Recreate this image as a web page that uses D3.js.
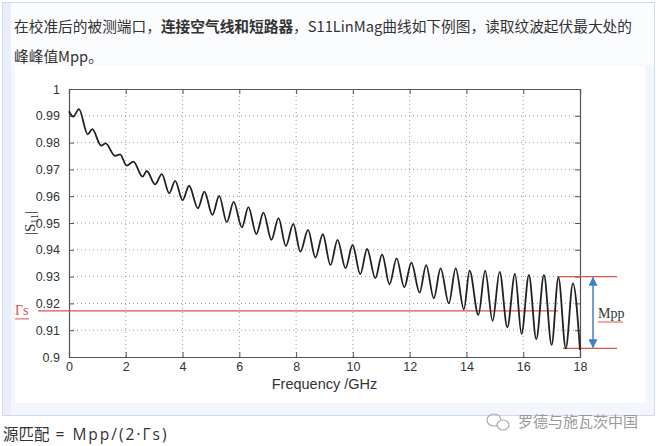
<!DOCTYPE html>
<html><head><meta charset="utf-8">
<script src="https://cdn.jsdelivr.net/npm/d3@7"></script>
<style>
html,body{margin:0;padding:0;background:#fff;}
svg{display:block;}
</style></head>
<body>
<svg id="c" width="659" height="446"></svg>
<script>
// ---- data ----
const freqGHz = [0,0.15,0.35,0.66,0.82,1.13,1.29,1.62,1.80,2.03,2.27,2.59,2.74,3.03,3.27,3.53,3.74,4.00,4.23,4.54,4.77,5.05,5.29,5.56,5.80,6.09,6.32,6.60,6.85,7.13,7.38,7.64,7.90,8.15,8.42,8.68,8.94,9.21,9.46,9.74,9.99,10.26,10.50,10.79,11.03,11.29,11.54,11.81,12.06,12.35,12.58,12.85,13.09,13.38,13.62,13.91,14.11,14.42,14.66,14.92,15.17,15.44,15.71,15.94,16.20,16.46,16.73,17.00,17.24,17.50,17.75,18.00];
const s11Mag = [0.9917,0.9897,0.9925,0.9831,0.9850,0.9789,0.9797,0.9751,0.9756,0.9714,0.9729,0.9673,0.9694,0.9644,0.9682,0.9611,0.9657,0.9585,0.9639,0.9555,0.9617,0.9530,0.9601,0.9503,0.9579,0.9484,0.9559,0.9459,0.9539,0.9437,0.9518,0.9414,0.9497,0.9393,0.9474,0.9371,0.9458,0.9343,0.9437,0.9331,0.9418,0.9309,0.9403,0.9294,0.9383,0.9271,0.9368,0.9260,0.9352,0.9240,0.9343,0.9219,0.9331,0.9200,0.9331,0.9178,0.9322,0.9157,0.9322,0.9135,0.9318,0.9111,0.9310,0.9086,0.9306,0.9066,0.9306,0.9045,0.9297,0.9032,0.9275,0.9026];
const xTicks = [0,2,4,6,8,10,12,14,16,18];
const yTicks = [0.9,0.91,0.92,0.93,0.94,0.95,0.96,0.97,0.98,0.99,1];
const gammaS = 0.9172;
const mppTop = 0.930;
const mppBottom = 0.9032;
const introLine1 = ["在校准后的被测端口，", "连接空气线和短路器", "，S11LinMag曲线如下例图，读取纹波起伏最大处的"];
const introLine2 = "峰峰值Mpp。";
const formula = ["源匹配", " = Mpp/(2·Γs)"];
const watermark = "罗德与施瓦茨中国";

const svg = d3.select("#c");

// page frame
svg.append("rect").attr("x",2.5).attr("y",2.5).attr("width",652).attr("height",413)
  .attr("fill","#f3f6fc").attr("stroke","#cdd9f1").attr("stroke-width",1);
svg.append("rect").attr("x",3).attr("y",3).attr("width",8).attr("height",412).attr("fill","#e9eef9");
svg.append("rect").attr("x",11).attr("y",3).attr("width",643).attr("height",62).attr("fill","#fbfcfe");
svg.append("rect").attr("x",15).attr("y",66).attr("width",630).attr("height",337).attr("fill","#ffffff");

// intro text
const t1 = svg.append("text").attr("x",14).attr("y",32)
  .attr("font-family","'Noto Sans CJK SC','Noto Sans',sans-serif").attr("font-size",14.7).attr("fill","#333");
t1.append("tspan").text(introLine1[0]);
t1.append("tspan").attr("font-weight","bold").text(introLine1[1]);
t1.append("tspan").text(introLine1[2]);
svg.append("text").attr("x",14).attr("y",62)
  .attr("font-family","'Noto Sans CJK SC','Noto Sans',sans-serif").attr("font-size",14.7).attr("fill","#333")
  .text(introLine2);

// scales
const x = d3.scaleLinear().domain([0,18]).range([69,580]);
const y = d3.scaleLinear().domain([0.9,1]).range([357,89]);

const g = svg.append("g");
// grid
g.selectAll(".gx").data(xTicks.slice(1,-1)).join("line")
  .attr("x1",d=>x(d)).attr("x2",d=>x(d)).attr("y1",y(0.9)).attr("y2",y(1))
  .attr("stroke","#9a9a9a").attr("stroke-width",1).attr("stroke-dasharray","1,3");
g.selectAll(".gy").data(yTicks.slice(1,-1)).join("line")
  .attr("y1",d=>y(d)).attr("y2",d=>y(d)).attr("x1",x(0)).attr("x2",x(18))
  .attr("stroke","#9a9a9a").attr("stroke-width",1).attr("stroke-dasharray","1,3");

// axes (MATLAB style, inward ticks)
const fmtY = d => d===1 ? "1" : (d===0.9 ? "0.9" : d3.format(".2f")(d));
const axB = d3.axisBottom(x).tickValues(xTicks).tickSize(-5).tickPadding(5).tickFormat(d3.format("d"));
const axT = d3.axisTop(x).tickValues(xTicks).tickSize(-5).tickFormat("");
const axL = d3.axisLeft(y).tickValues(yTicks).tickSize(-5).tickPadding(9).tickFormat(fmtY);
const axR = d3.axisRight(y).tickValues(yTicks).tickSize(-5).tickFormat("");
function style(sel){
  sel.select(".domain").attr("stroke","#555").attr("stroke-width",1.2);
  sel.selectAll(".tick line").attr("stroke","#555");
  sel.selectAll("text").attr("font-family","'Liberation Sans',Arial,sans-serif").attr("font-size",12.5).attr("fill","#333");
}
g.append("g").attr("transform",`translate(0,${y(0.9)})`).call(axB).call(style);
g.append("g").attr("transform",`translate(0,${y(1)})`).call(axT).call(style);
g.append("g").attr("transform",`translate(${x(0)},0)`).call(axL).call(style);
g.append("g").attr("transform",`translate(${x(18)},0)`).call(axR).call(style);

// axis labels
svg.append("text").attr("x",(x(0)+x(18))/2).attr("y",389).attr("text-anchor","middle")
  .attr("font-family","'Liberation Sans',Arial,sans-serif").attr("font-size",14.5).attr("fill","#333")
  .text("Frequency /GHz");
const yl = svg.append("text").attr("transform",`translate(35,${(y(0.9)+y(1))/2}) rotate(-90)`)
  .attr("text-anchor","middle").attr("font-family","'Liberation Serif','Times New Roman',serif")
  .attr("font-size",15).attr("fill","#333");
yl.append("tspan").text("|S");
yl.append("tspan").attr("font-size",10).attr("dy",3).text("11");
yl.append("tspan").attr("dy",-3).text("|");

// red reference lines
const red = "#d9534f";
svg.append("line").attr("x1",38).attr("x2",558).attr("y1",y(gammaS)).attr("y2",y(gammaS))
  .attr("stroke",red).attr("stroke-width",1.3);
svg.append("line").attr("x1",557).attr("x2",617).attr("y1",y(mppTop)).attr("y2",y(mppTop))
  .attr("stroke",red).attr("stroke-width",1.3);
svg.append("line").attr("x1",563).attr("x2",617).attr("y1",y(mppBottom)).attr("y2",y(mppBottom))
  .attr("stroke",red).attr("stroke-width",1.3);

// curve
const pts = freqGHz.map((f,i)=>[f,s11Mag[i]]);
svg.append("path").datum(pts)
  .attr("d", d3.line().x(d=>x(d[0])).y(d=>y(d[1])).curve(d3.curveMonotoneX))
  .attr("fill","none").attr("stroke","#222").attr("stroke-width",1.8);

// Γs label
svg.append("text").attr("x",15).attr("y",y(gammaS)+4).attr("font-family","'Liberation Serif','Times New Roman',serif")
  .attr("font-size",14).attr("fill",red).text("Γs");
svg.append("line").attr("x1",15).attr("x2",29).attr("y1",y(gammaS)+8).attr("y2",y(gammaS)+8)
  .attr("stroke",red).attr("stroke-width",1);

// Mpp arrow
const blue = "#3f7fc6";
const defs = svg.append("defs");
defs.append("marker").attr("id","ah").attr("viewBox","0 0 10 10").attr("refX",9).attr("refY",5)
  .attr("markerWidth",9).attr("markerHeight",9).attr("markerUnits","userSpaceOnUse").attr("orient","auto-start-reverse")
  .append("path").attr("d","M0,0 L10,5 L0,10 Z").attr("fill",blue);
svg.append("line").attr("x1",593).attr("x2",593).attr("y1",y(mppTop)+1).attr("y2",y(mppBottom)-1)
  .attr("stroke",blue).attr("stroke-width",1.5)
  .attr("marker-start","url(#ah)").attr("marker-end","url(#ah)");
svg.append("text").attr("x",598).attr("y",318).attr("font-family","'Liberation Serif','Times New Roman',serif")
  .attr("font-size",14).attr("fill","#333").text("Mpp");
svg.append("line").attr("x1",598).attr("x2",623).attr("y1",322).attr("y2",322)
  .attr("stroke",red).attr("stroke-width",1);

// bottom formula & watermark
const ft = svg.append("text").attr("x",3).attr("y",440).attr("font-size",15.5).attr("fill","#333");
ft.append("tspan").attr("font-family","'Noto Sans CJK SC','Noto Sans',sans-serif").text(formula[0]);
ft.append("tspan").attr("font-family","'Open Sans','Noto Sans',sans-serif").attr("letter-spacing",2)
  .attr("xml:space","preserve").style("white-space","pre").text(formula[1]);
const wg = svg.append("g").attr("fill","none").attr("stroke","#aaa").attr("stroke-width",1.2);
wg.append("ellipse").attr("cx",494).attr("cy",420).attr("rx",7).attr("ry",6);
wg.append("ellipse").attr("cx",503).attr("cy",425).attr("rx",6).attr("ry",5).attr("fill","#fff");
svg.append("text").attr("x",518).attr("y",427).attr("font-family","'Noto Sans CJK SC','Noto Sans',sans-serif")
  .attr("font-size",15).attr("fill","#999").text(watermark);
</script>
</body></html>
